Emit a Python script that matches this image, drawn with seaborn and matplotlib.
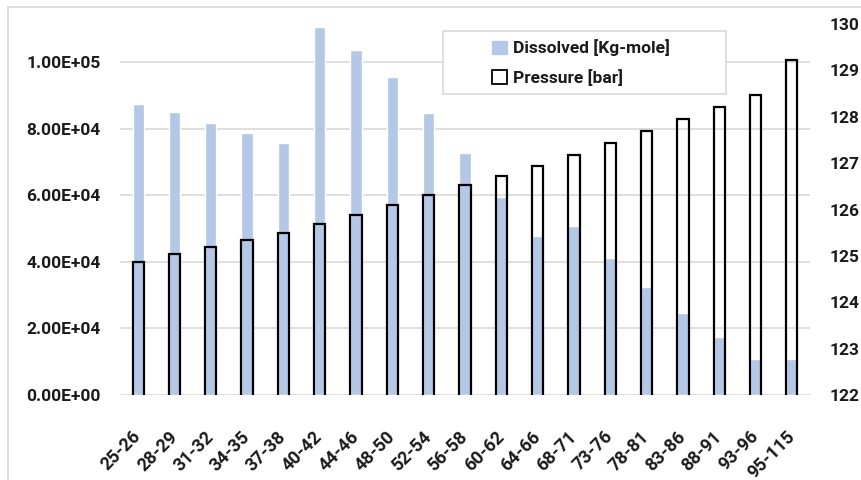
import matplotlib
matplotlib.use("Agg")
import matplotlib.pyplot as plt
import seaborn as sns
import pandas as pd
from matplotlib.patches import Patch, Rectangle
from matplotlib.lines import Line2D
from matplotlib.ticker import FuncFormatter

categories = ["25-26", "28-29", "31-32", "34-35", "37-38", "40-42", "44-46", "48-50",
              "52-54", "56-58", "60-62", "64-66", "68-71", "73-76", "78-81", "83-86",
              "88-91", "93-96", "95-115"]
dissolved = [87300, 84900, 81600, 78600, 75600, 110400, 103500, 95400, 84600, 72600,
             59400, 47700, 50700, 41100, 32400, 24600, 17400, 10800, 10700]
pressure = [124.87, 125.04, 125.19, 125.34, 125.49, 125.69, 125.88, 126.09, 126.31,
            126.53, 126.72, 126.94, 127.17, 127.43, 127.69, 127.95, 128.21, 128.47, 129.22]
left_ticks = [0, 20000, 40000, 60000, 80000, 100000]
right_ticks = [122, 123, 124, 125, 126, 127, 128, 129, 130]

df = pd.DataFrame({"cat": categories, "dissolved": dissolved, "pressure": pressure})

sns.set_theme(style="white")
plt.rcParams["font.family"] = ["Roboto", "DejaVu Sans"]
plt.rcParams["font.weight"] = "bold"

FS = 12.5
W, H = 862, 480
fig = plt.figure(figsize=(W / 100, H / 100), dpi=100)
ax = fig.add_axes([120 / W, 1 - 395 / H, 690 / W, 371 / H])

blue = "#b4c7e7"
txt = "#1a1a1a"
sns.barplot(data=df, x="cat", y="dissolved", color=blue, width=0.31, saturation=1,
            ax=ax, zorder=2)
ax.set_ylim(0, 100000 * 371 / 333)
ax.set_yticks(left_ticks)
ax.yaxis.set_major_formatter(FuncFormatter(lambda v, p: f"{v:.2E}"))
ax.grid(axis="y", color="#d9d9d9", linewidth=1.2, zorder=0)
ax.set_axisbelow(True)
for s in ax.spines.values():
    s.set_visible(False)
ax.set_xlabel("")
ax.set_ylabel("")
ax.tick_params(axis="y", length=0, pad=14, labelsize=FS, labelcolor=txt)
ax.tick_params(axis="x", length=0, pad=28, labelsize=13, labelcolor=txt)
for lab in ax.get_xticklabels():
    lab.set_rotation(45)
    lab.set_ha("right")
    lab.set_va("center")
    lab.set_rotation_mode("anchor")
    lab.set_fontweight("bold")
for lab in ax.get_yticklabels():
    lab.set_fontweight("bold")

ax2 = ax.twinx()
sns.barplot(data=df, x="cat", y="pressure", fill=False, color="black", width=0.31,
            linewidth=1.6, ax=ax2, zorder=3)
for p in ax2.patches:
    p.set_edgecolor("black")
    p.set_facecolor("none")
ax2.set_ylim(122, 130)
ax2.set_yticks(right_ticks)
ax2.set_ylabel("")
for s in ax2.spines.values():
    s.set_visible(False)
ax2.tick_params(axis="y", length=0, pad=14, labelsize=FS, labelcolor=txt)
for lab in ax2.get_yticklabels():
    lab.set_fontweight("bold")

# legend frame
fig.add_artist(Rectangle((443 / W, 1 - 94 / H), 283 / W, 63 / H, transform=fig.transFigure,
                         facecolor="white", edgecolor="#d9d9d9", linewidth=1.2, zorder=9))
handles = [Patch(facecolor=blue, edgecolor=blue, label="Dissolved [Kg-mole]"),
           Patch(facecolor="white", edgecolor="black", linewidth=1.3, label="Pressure [bar]")]
leg = fig.legend(handles=handles, loc="center left",
                 bbox_to_anchor=(492 / W, 1 - 63 / H),
                 bbox_transform=fig.transFigure,
                 frameon=False,
                 prop={"family": "Roboto", "size": FS, "weight": "bold"},
                 handlelength=0.85, handleheight=0.85,
                 handletextpad=0.35, labelspacing=0.75, borderpad=0.0, borderaxespad=0)
for t in leg.get_texts():
    t.set_color(txt)
leg.set_zorder(10)

# chart area border
fig.add_artist(Line2D([8 / W, 8 / W], [0, 1 - 7 / H], transform=fig.transFigure,
                      color="#d9d9d9", linewidth=1.2))
fig.add_artist(Line2D([8 / W, 1], [1 - 7 / H, 1 - 7 / H], transform=fig.transFigure,
                      color="#d9d9d9", linewidth=1.2))

fig.savefig("out.png", dpi=100)
